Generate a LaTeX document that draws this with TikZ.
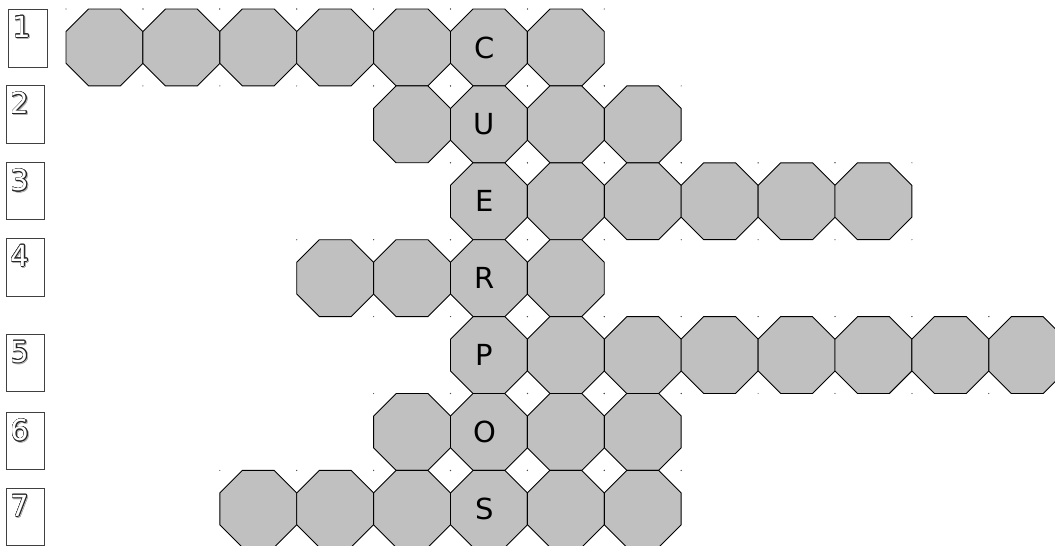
\documentclass[tikz,border=0pt]{standalone}
\usepackage{fontspec}
\setmainfont{DejaVu Sans}
\usepackage{contour}
\contourlength{0.7pt}
\usetikzlibrary{shapes.geometric}
\definecolor{octfill}{HTML}{C0C0C0}
\newcommand\outdigit[1]{\makebox[0pt][l]{\hspace*{1pt}\raisebox{-1pt}{\textcolor{black!30}{\contour{black!30}{#1}}}}\textcolor{white}{\contour{black!85}{#1}}}
\begin{document}
\begin{tikzpicture}[x=1pt,y=-1pt,
  oct/.style={regular polygon, regular polygon sides=8, minimum size=83.2pt,
    inner sep=0pt, outer sep=0pt, draw=black, line width=0.9pt, fill=octfill,
    font=\fontsize{29}{29}\selectfont},
  numbox/.style={rectangle, draw=black!75, line width=0.8pt, anchor=north west,
    minimum height=58pt, inner sep=0pt, outer sep=0pt},
  digit/.style={anchor=north west, inner sep=0pt, font=\fontsize{29}{29}\selectfont},
  dotc/.style={fill=black!70}]
\useasboundingbox (0,0) rectangle (1055,546);
% octagon cells
\foreach \r/\a/\b/\L in {1/0/6/C, 2/4/7/U, 3/5/10/E, 4/3/6/R, 5/5/12/P, 6/4/7/O, 7/2/7/S} {
  \foreach \c in {\a,...,\b} {
    \pgfmathsetmacro\cx{66+76.9*\c+38.45}
    \pgfmathsetmacro\cy{9+76.9*(\r-1)+38.45}
    \ifnum\c=5 \def\txt{\L\hspace*{9pt}}\else\def\txt{}\fi
    \node[oct] (o\r-\c) at (\cx,\cy) {\txt};
    \foreach \dx/\dy in {0/0,1/0,1/1}
      \fill[dotc] ({66+76.9*(\c+\dx)},{9+76.9*(\r-1+\dy)}) circle (0.6);
  }
}
% number boxes
\node[numbox, minimum width=39pt] (b1) at (8,9) {};
\node[numbox, minimum width=38pt] (b2) at (6,85) {};
\node[numbox, minimum width=38pt, minimum height=57pt] (b3) at (6,162) {};
\node[numbox, minimum width=38pt] (b4) at (6,238) {};
\node[numbox, minimum width=38pt, minimum height=57pt] (b5) at (6,334) {};
\node[numbox, minimum width=38pt, minimum height=57pt] (b6) at (6,412) {};
\node[numbox, minimum width=38pt, minimum height=57pt] (b7) at (6,488) {};
\foreach \i in {1,...,7}
  \node[digit] (d\i) at ([shift={(4.5,7)}]b\i.north west) {\outdigit{\i}};
\end{tikzpicture}
\end{document}
